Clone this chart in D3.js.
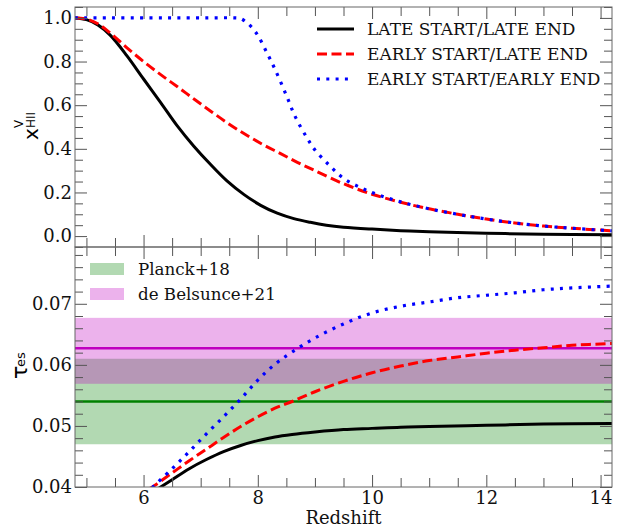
<!DOCTYPE html>
<html><head><meta charset="utf-8">
<script src="https://cdn.jsdelivr.net/npm/d3@7"></script>
<style>body{margin:0;background:#fff}svg{display:block}</style>
</head><body>
<svg id="c" width="623" height="527"></svg>
<script>
// ---- data ----
const xTickValues = [6, 8, 10, 12, 14];
const xTickLabels = ["6", "8", "10", "12", "14"];
const topYTickValues = [0, 0.2, 0.4, 0.6, 0.8, 1.0];
const topYTickLabels = ["0.0", "0.2", "0.4", "0.6", "0.8", "1.0"];
const botYTickValues = [0.04, 0.05, 0.06, 0.07];
const botYTickLabels = ["0.04", "0.05", "0.06", "0.07"];
const seriesNames = ["LATE START/LATE END", "EARLY START/LATE END", "EARLY START/EARLY END"];
const bandNames = ["Planck+18", "de Belsunce+21"];

// ionized fraction (top panel)
const zLateLateX = [4.8,5.0,5.2,5.42,5.71,6.0,6.3,6.59,6.88,7.17,7.46,7.76,8.05,8.34,8.63,8.92,9.2,9.5,10,10.5,11,12,13,14.2];
const xLateLate  = [1.0,0.992,0.968,0.92,0.826,0.72,0.612,0.505,0.412,0.329,0.253,0.19,0.141,0.105,0.08,0.063,0.05,0.041,0.032,0.025,0.02,0.013,0.009,0.006];
const zEarlyLateX = [4.8,5.0,5.2,5.42,5.7,6.0,6.3,6.6,6.9,7.2,7.5,7.8,8.1,8.4,8.7,9.0,9.5,10,10.5,11,11.5,12,12.5,13,13.5,14.2];
const xEarlyLate  = [1.0,0.995,0.973,0.93,0.865,0.8,0.74,0.683,0.625,0.568,0.513,0.463,0.418,0.378,0.337,0.3,0.24,0.192,0.155,0.125,0.1,0.078,0.06,0.046,0.036,0.024];
const zEarlyEarlyX = [4.8,7.0,7.6,7.7,7.8,7.9,8.0,8.15,8.3,8.5,8.65,8.85,9.0,9.25,9.5,9.8,10.1,10.5,11,11.5,12,12.5,13,13.5,14.2];
const xEarlyEarly  = [1.0,1.0,1.0,0.997,0.98,0.955,0.92,0.845,0.765,0.645,0.55,0.455,0.395,0.325,0.265,0.222,0.19,0.157,0.125,0.1,0.078,0.06,0.046,0.036,0.024];

// optical depth (bottom panel)
const zLateLateT = [6.2,6.3,6.5,6.8,7.1,7.4,7.7,8.0,8.3,8.6,9.0,9.5,10,10.5,11,12,13,14.2];
const tLateLate  = [0.0394,0.04,0.0412,0.043,0.0445,0.0458,0.0468,0.0476,0.0482,0.0486,0.049,0.0494,0.0496,0.0498,0.0499,0.0501,0.0503,0.0504];
const zEarlyLateT = [6.1,6.2,6.5,6.8,7.1,7.4,7.7,8.0,8.3,8.6,9.0,9.5,10,10.5,11,11.5,12,12.5,13,13.5,14.2];
const tEarlyLate  = [0.0397,0.0403,0.0423,0.0443,0.0462,0.0481,0.0499,0.0515,0.0529,0.054,0.0556,0.0573,0.0587,0.0598,0.0607,0.0613,0.0619,0.0624,0.0628,0.0632,0.0635];
const zEarlyEarlyT = [6.15,6.5,6.8,7.1,7.4,7.7,8.0,8.3,8.6,9.0,9.5,10,10.5,11,11.5,12,12.5,13,13.5,14.2];
const tEarlyEarly  = [0.0399,0.043,0.0458,0.0487,0.0515,0.0544,0.0575,0.0601,0.0621,0.0644,0.0667,0.0685,0.0696,0.0703,0.071,0.0714,0.0718,0.0723,0.0726,0.0729];

const planckBand = [0.047, 0.061];
const planckCenter = 0.054;
const belsunceBand = [0.0569, 0.0677];
const belsunceCenter = 0.0627;

// ---- layout ----
const L = 75, R = 612, T1 = 7, B1 = 247, T2 = 247, B2 = 487;
const svg = d3.select("#c");
const x = d3.scaleLinear().domain([4.8, 14.2]).range([L, R]);
const y1 = d3.scaleLinear().domain([-0.05, 1.05]).range([B1, T1]);
const y2 = d3.scaleLinear().domain([0.04, 0.0793]).range([B2, T2]);

const defs = svg.append("defs");
defs.append("clipPath").attr("id","cp1").append("rect").attr("x",L).attr("y",T1).attr("width",R-L).attr("height",B1-T1);
defs.append("clipPath").attr("id","cp2").append("rect").attr("x",L).attr("y",T2).attr("width",R-L).attr("height",B2-T2);

const styles = [
  {color:"#000000", dash:null, w:3},
  {color:"#ff0000", dash:"10 4.5", w:3},
  {color:"#0000ff", dash:"3 6.3", w:3.2}
];

function draw(g, zs, vs, ys, st){
  const pts = zs.map((z,i)=>[z, vs[i]]);
  g.append("path").datum(pts)
    .attr("d", d3.line().x(d=>x(d[0])).y(d=>ys(d[1])).curve(d3.curveCatmullRom.alpha(0.5)))
    .attr("fill","none").attr("stroke",st.color).attr("stroke-width",st.w)
    .attr("stroke-dasharray",st.dash);
}

// top panel
const g1 = svg.append("g").attr("clip-path","url(#cp1)");
draw(g1, zLateLateX, xLateLate, y1, styles[0]);
draw(g1, zEarlyLateX, xEarlyLate, y1, styles[1]);
draw(g1, zEarlyEarlyX, xEarlyEarly, y1, styles[2]);

// bottom panel
const g2 = svg.append("g").attr("clip-path","url(#cp2)");
const bands = [
  {b:planckBand, c:planckCenter, col:"#008000"},
  {b:belsunceBand, c:belsunceCenter, col:"#bf00bf"}
];
bands.forEach(o=>{
  g2.append("rect").attr("x",L).attr("width",R-L)
    .attr("y",y2(o.b[1])).attr("height",y2(o.b[0])-y2(o.b[1]))
    .attr("fill",o.col).attr("fill-opacity",0.3);
});
bands.forEach(o=>{
  g2.append("line").attr("x1",L).attr("x2",R).attr("y1",y2(o.c)).attr("y2",y2(o.c))
    .attr("stroke",o.col).attr("stroke-width",2.5);
});
draw(g2, zLateLateT, tLateLate, y2, styles[0]);
draw(g2, zEarlyLateT, tEarlyLate, y2, styles[1]);
draw(g2, zEarlyEarlyT, tEarlyEarly, y2, styles[2]);

// ---- axes ----
const tickCol = "#555";
const serif = "'DejaVu Serif', serif";
const xMinor = d3.range(5, 14.21, 0.5).filter(v=>!xTickValues.includes(v));
function styleAxis(g){
  g.select(".domain").remove();
  g.selectAll("line").attr("stroke",tickCol).attr("stroke-width",1);
  g.selectAll("text").attr("font-family",serif).attr("font-size",18).attr("fill","#111");
}
function xAxes(top, bottom, labels){
  let a = svg.append("g").attr("transform",`translate(0,${bottom})`)
    .call(d3.axisBottom(x).tickValues(xTickValues).tickSize(-12).tickPadding(4)
      .tickFormat((d,i)=>labels?xTickLabels[i]:""));
  styleAxis(a);
  a = svg.append("g").attr("transform",`translate(0,${bottom})`)
    .call(d3.axisBottom(x).tickValues(xMinor).tickSize(-9).tickFormat(""));
  styleAxis(a);
  a = svg.append("g").attr("transform",`translate(0,${top})`)
    .call(d3.axisTop(x).tickValues(xTickValues).tickSize(-12).tickFormat(""));
  styleAxis(a);
  a = svg.append("g").attr("transform",`translate(0,${top})`)
    .call(d3.axisTop(x).tickValues(xMinor).tickSize(-9).tickFormat(""));
  styleAxis(a);
}
function yAxes(ys, vals, labs, minor){
  let a = svg.append("g").attr("transform",`translate(${L},0)`)
    .call(d3.axisLeft(ys).tickValues(vals).tickSize(-12).tickPadding(3).tickFormat((d,i)=>labs[i]));
  styleAxis(a);
  a = svg.append("g").attr("transform",`translate(${L},0)`)
    .call(d3.axisLeft(ys).tickValues(minor).tickSize(-8).tickFormat(""));
  styleAxis(a);
  a = svg.append("g").attr("transform",`translate(${R},0)`)
    .call(d3.axisRight(ys).tickValues(vals).tickSize(-12).tickFormat(""));
  styleAxis(a);
  a = svg.append("g").attr("transform",`translate(${R},0)`)
    .call(d3.axisRight(ys).tickValues(minor).tickSize(-8).tickFormat(""));
  styleAxis(a);
}
xAxes(T1, B1, false);
xAxes(T2, B2, true);
const topMinor = d3.range(-0.05, 1.051, 0.05).map(v=>+v.toFixed(2)).filter(v=>!topYTickValues.some(t=>Math.abs(t-v)<1e-6));
const botMinor = d3.range(0.04, 0.0795, 0.002).map(v=>+v.toFixed(3)).filter(v=>!botYTickValues.some(t=>Math.abs(t-v)<1e-6));
yAxes(y1, topYTickValues, topYTickLabels, topMinor);
yAxes(y2, botYTickValues, botYTickLabels, botMinor);

// frames
[[T1,B1],[T2,B2]].forEach(([t,b])=>{
  svg.append("rect").attr("x",L).attr("y",t).attr("width",R-L).attr("height",b-t)
    .attr("fill","none").attr("stroke","#666").attr("stroke-width",1);
});

// ---- legends ----
const lg = svg.append("g");
seriesNames.forEach((name,i)=>{
  const yy = 29 + i*25;
  lg.append("line").attr("x1",317).attr("x2",354).attr("y1",yy).attr("y2",yy)
    .attr("stroke",styles[i].color).attr("stroke-width",styles[i].w).attr("stroke-dasharray",styles[i].dash);
  lg.append("text").attr("x",367).attr("y",yy+6.3).text(name)
    .attr("font-family",serif).attr("font-size",17).attr("fill","#111");
});
bandNames.forEach((name,i)=>{
  const yy = 269 + i*25;
  lg.append("rect").attr("x",90).attr("y",yy-6).attr("width",34).attr("height",12)
    .attr("fill",bands[i].col).attr("fill-opacity",0.3);
  lg.append("text").attr("x",138).attr("y",yy+6.3).text(name)
    .attr("font-family",serif).attr("font-size",16.7).attr("fill","#111");
});

// ---- axis titles ----
svg.append("text").attr("x",(L+R)/2).attr("y",524).attr("text-anchor","middle")
  .attr("font-family",serif).attr("font-size",18).attr("fill","#111").text("Redshift");
const sans = "'DejaVu Sans', sans-serif";
const ly1 = svg.append("g").attr("transform","translate(38,140) rotate(-90)");
ly1.append("text").attr("x",0).attr("y",0).attr("font-family",sans).attr("font-size",20).text("x");
ly1.append("text").attr("x",12).attr("y",-15).attr("font-family",sans).attr("font-size",12).text("V");
ly1.append("text").attr("x",12).attr("y",-3).attr("font-family",sans).attr("font-size",12).text("HII");
const ly2 = svg.append("g").attr("transform","translate(27,379) rotate(-90)");
ly2.append("text").attr("x",0).attr("y",0).attr("font-family",sans).attr("font-size",22).text("τ");
ly2.append("text").attr("x",12).attr("y",-2).attr("font-family",sans).attr("font-size",13).text("es");
</script>
</body></html>
